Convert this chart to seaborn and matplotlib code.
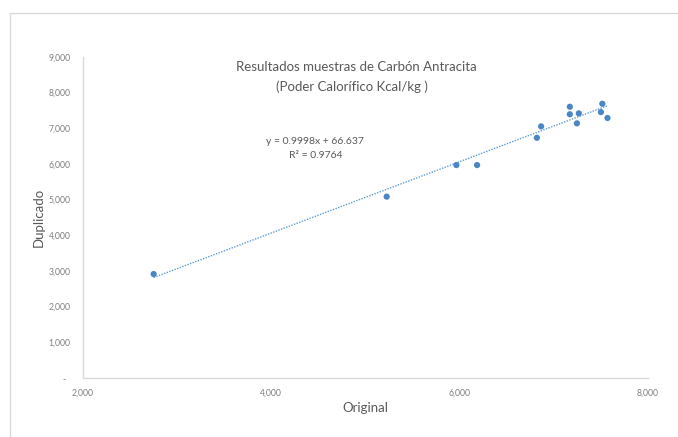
import matplotlib
matplotlib.use("Agg")
import matplotlib.pyplot as plt
import matplotlib.ticker as mticker
from matplotlib.patches import Rectangle
import seaborn as sns
import pandas as pd

# Calorific value of anthracite samples: original vs duplicate (kcal/kg)
original = [2750, 5225, 5965, 6185, 6820, 6865, 7170, 7170, 7265, 7245, 7515, 7500, 7570]
duplicado = [2915, 5085, 5970, 5970, 6735, 7055, 7605, 7395, 7420, 7140, 7690, 7455, 7290]

# Linear trend reported on the chart
slope = 0.9998
intercept = 66.637
r_squared = 0.9764

x_ticks = [2000, 4000, 6000, 8000]
y_ticks = [0, 1000, 2000, 3000, 4000, 5000, 6000, 7000, 8000, 9000]

W, H = 678, 437
sns.set_theme(style="white")
plt.rcParams["font.family"] = ["Lato", "DejaVu Sans"]

fig = plt.figure(figsize=(W / 100, H / 100), dpi=100, facecolor="white")


def fx(px):
    return px / W


def fy(py):
    return 1 - py / H


ax = fig.add_axes([fx(83), fy(378), fx(648) - fx(83), fy(57) - fy(378)])

df = pd.DataFrame({"Original": original, "Duplicado": duplicado})

# trend line across the range of the data
x_line = [min(original), max(original)]
trend = pd.DataFrame({"x": x_line, "y": [slope * v + intercept for v in x_line]})
sns.lineplot(data=trend, x="x", y="y", ax=ax, color="#5B9BD5",
             linewidth=1.0, linestyle=(0, (1, 1)), zorder=2)

sns.scatterplot(data=df, x="Original", y="Duplicado", ax=ax, color="#4A86C6",
                s=20, edgecolor="none", zorder=3)

ax.set_xlim(2000, 8000)
ax.set_ylim(0, 9000)
ax.set_xticks(x_ticks)
ax.set_yticks(y_ticks)


def fmt(v, pos=None):
    return "-  " if v == 0 else f"{int(v):,}"


ax.xaxis.set_major_formatter(mticker.FuncFormatter(fmt))
ax.yaxis.set_major_formatter(mticker.FuncFormatter(fmt))
ax.tick_params(axis="both", length=0, labelsize=6.2, colors="#7F7F7F")
ax.tick_params(axis="y", pad=9)
ax.tick_params(axis="x", pad=8)

for side in ("top", "right"):
    ax.spines[side].set_visible(False)
for side in ("left", "bottom"):
    ax.spines[side].set_color("#D9D9D9")
    ax.spines[side].set_linewidth(1.0)
ax.grid(False)
ax.set_facecolor("white")

ax.set_xlabel("")
ax.set_ylabel("")
fig.text(fx(365), fy(408), "Original", ha="center", va="center",
         fontsize=9.5, color="#595959")
fig.text(fx(39), fy(217), "Duplicado", ha="center", va="center",
         rotation=90, fontsize=9.5, color="#595959")

# chart title
fig.text(fx(356), fy(67), "Resultados muestras de Carbón Antracita",
         ha="center", va="center", fontsize=9.5, color="#595959")
fig.text(fx(352), fy(87), "(Poder Calorífico Kcal/kg )",
         ha="center", va="center", fontsize=9.5, color="#595959")

# trend line equation
fig.text(fx(315), fy(142), f"y = {slope}x + {intercept}",
         ha="center", va="center", fontsize=7.5, color="#595959")
fig.text(fx(316), fy(156), f"R² = {r_squared}",
         ha="center", va="center", fontsize=7.5, color="#595959")

# chart area border
fig.patches.append(Rectangle((fx(9.5), fy(H + 20)), 2, fy(13.5) - fy(H + 20),
                             transform=fig.transFigure, fill=False,
                             edgecolor="#D9D9D9", linewidth=1.0))

fig.savefig("out.png", dpi=100, facecolor="white")
